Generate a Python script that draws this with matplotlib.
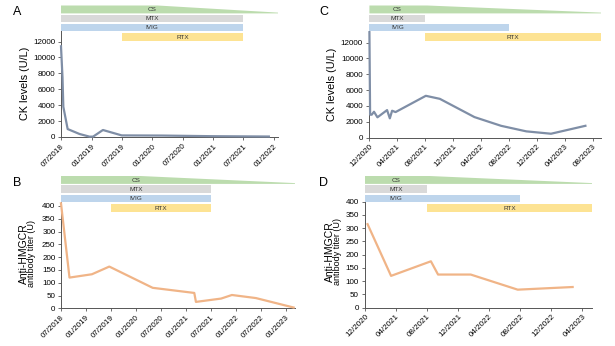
import matplotlib
matplotlib.use("Agg")
import matplotlib.pyplot as plt
import matplotlib.dates as mdates
from matplotlib.patches import Polygon, Rectangle
import pandas as pd

plt.rcParams['font.family'] = ['Liberation Sans', 'DejaVu Sans']

# ---- data ----
# A: CK levels, patient 1
a_dates = ["2018-07-01", "2018-07-10", "2018-07-15", "2018-08-10", "2018-10-20", "2018-12-20",
           "2019-01-10", "2019-03-10", "2019-07-01", "2020-03-01", "2021-01-01", "2021-12-01"]
a_ck = [11400, 7500, 3800, 1000, 380, 40, 50, 880, 200, 180, 100, 60]

# B: anti-HMGCR titer, patient 1
b_dates = ["2018-07-01", "2018-09-01", "2019-02-12", "2019-06-19", "2020-05-01", "2021-03-01",
           "2021-03-13", "2021-09-13", "2021-12-01", "2022-05-25", "2023-02-25"]
b_titer = [410, 120, 133, 163, 80, 60, 25, 38, 52, 40, 3]

# C: CK levels, patient 2
c_dates = ["2020-12-01", "2020-12-04", "2020-12-11", "2020-12-21", "2021-01-05", "2021-02-16",
           "2021-02-28", "2021-03-10", "2021-03-25", "2021-08-04", "2021-10-04", "2022-03-04",
           "2022-06-28", "2022-10-16", "2023-02-01", "2023-07-01"]
c_ck = [13300, 2900, 2900, 3270, 2570, 3480, 2440, 3400, 3230, 5280, 4900, 2600,
        1500, 800, 500, 1500]

# D: anti-HMGCR titer, patient 2
d_dates = ["2020-12-11", "2021-03-13", "2021-08-16", "2021-09-13", "2022-01-19", "2022-07-22", "2023-02-22"]
d_titer = [315, 120, 175, 125, 125, 68, 78]

# treatments: (name, start, end) ; CS tapers from taper date to end
treat_names = ["CS", "MTX", "IVIG", "RTX"]
p1_start = ["2018-07-01", "2018-07-01", "2018-07-01", "2019-07-01"]
p1_end_a = ["2022-01-25", "2021-07-01", "2021-07-01", "2021-07-01"]
p1_end_b = ["2023-03-07", "2021-07-01", "2021-07-01", "2021-07-01"]
p1_taper = "2020-02-01"
p2_start = ["2020-12-01", "2020-12-01", "2020-12-01", "2021-08-01"]
p2_end_c = ["2023-09-07", "2021-08-01", "2022-08-01", "2023-09-07"]
p2_end_d = ["2023-05-10", "2021-08-01", "2022-08-01", "2023-05-10"]
p2_taper = "2021-08-10"

treat_colors = ["#bcdcae", "#d9d9d9", "#bed5ec", "#fde393"]
lanes = [(5.5, 13.4), (14.9, 22.0), (24.0, 31.3), (33.3, 41.3)]

W, H = 615, 346
fig = plt.figure(figsize=(W / 100, H / 100), dpi=100)


def px_axes(left, top, right, bottom):
    return fig.add_axes([left / W, 1 - bottom / H, (right - left) / W, (bottom - top) / H])


def draw_panel(box, bar_top, dates, vals, color, xlim, ylim, yticks, months,
               starts, ends, taper, letter, ylabel_lines, ylabel_x):
    ax = px_axes(*box)
    x = pd.to_datetime(dates)
    ax.plot(x, vals, color=color, lw=1.6, solid_joinstyle='round', clip_on=False, zorder=3)
    ax.set_xlim(pd.to_datetime(xlim[0]), pd.to_datetime(xlim[1]))
    ax.set_ylim(*ylim)
    ax.set_yticks(yticks)
    ax.xaxis.set_major_locator(mdates.MonthLocator(bymonth=months))
    ax.xaxis.set_major_formatter(mdates.DateFormatter('%m/%Y'))
    for s in ['top', 'right']:
        ax.spines[s].set_visible(False)
    for s in ['left', 'bottom']:
        ax.spines[s].set_color('#555555')
        ax.spines[s].set_linewidth(0.7)
    ax.tick_params(axis='both', length=2.5, width=0.6, color='#555555', pad=1.5)
    ax.tick_params(axis='y', labelsize=5.8)
    ax.tick_params(axis='x', labelsize=5.8)
    for lab in ax.get_xticklabels():
        lab.set_rotation(45)
        lab.set_ha('right')
        lab.set_rotation_mode('anchor')

    # treatment bars
    bax = fig.add_axes([box[0] / W, 1 - (bar_top + 42) / H, (box[2] - box[0]) / W, 42 / H],
                       sharex=ax)
    bax.set_ylim(42, 0)
    bax.axis('off')
    bax.patch.set_visible(False)
    bax.set_zorder(ax.get_zorder() + 1)
    num = [mdates.date2num(pd.to_datetime(v)) for v in starts]
    nue = [mdates.date2num(pd.to_datetime(v)) for v in ends]
    mtx_mid = (num[1] + nue[1]) / 2
    for name, s, e, c, (t, b) in zip(treat_names, num, nue, treat_colors, lanes):
        if name == "CS":
            tp = mdates.date2num(pd.to_datetime(taper))
            poly = Polygon([(s, t), (tp, t), (e, b - 0.8), (e, b), (s, b)],
                           closed=True, facecolor=c, edgecolor='none')
            bax.add_patch(poly)
        else:
            bax.add_patch(Rectangle((s, t), e - s, b - t, facecolor=c, edgecolor='none'))
        xt = (s + e) / 2 if name == "RTX" else mtx_mid
        bax.text(xt, (t + b) / 2 + 0.3, name, fontsize=4.6, color='#333333',
                 ha='center', va='center')

    fig.text(13 / W if box[0] < 300 else 319 / W, 1 - (bar_top + 12) / H, letter,
             fontsize=9, ha='left', va='center')
    ycen = 1 - (box[1] + box[3]) / 2 / H
    for (txt, fs), xx in zip(ylabel_lines, ylabel_x):
        fig.text(xx / W, ycen, txt, fontsize=fs, rotation=90, ha='center', va='center')
    return ax


draw_panel((61, 30, 278, 137), 0, a_dates, a_ck, '#7f8ea6',
           ("2018-07-01", "2022-01-25"), (0, 13450), range(0, 13000, 2000), [1, 7],
           p1_start, p1_end_a, p1_taper, "A", [("CK levels (U/L)", 7.8)], [25])
draw_panel((61, 199, 295, 308.3), 170.5, b_dates, b_titer, '#f0b487',
           ("2018-07-01", "2023-03-07"), (0, 427), range(0, 401, 50), [1, 7],
           p1_start, p1_end_b, p1_taper, "B",
           [("Anti-HMGCR", 7.5), ("antibody titer (U)", 6.5)], [23.5, 31.5])
draw_panel((368.5, 31, 601, 137.7), 0, c_dates, c_ck, '#7f8ea6',
           ("2020-11-27", "2023-09-07"), (0, 13450), range(0, 13000, 2000), [4, 8, 12],
           p2_start, p2_end_c, p2_taper, "C", [("CK levels (U/L)", 7.8)], [332])
draw_panel((364.5, 195, 592.3, 307.7), 170.5, d_dates, d_titer, '#f0b487',
           ("2020-11-29", "2023-05-10"), (0, 425), range(0, 401, 50), [4, 8, 12],
           p2_start, p2_end_d, p2_taper, "D",
           [("Anti-HMGCR", 7.5), ("antibody titer (U)", 6.5)], [329.5, 337.5])

fig.savefig("out.png", dpi=100)
